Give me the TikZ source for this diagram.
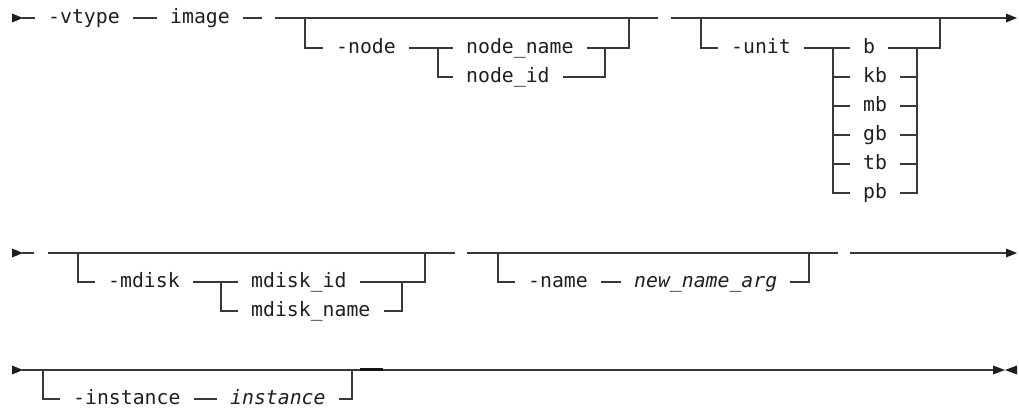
\documentclass[tikz,border=0pt]{standalone}
\usepackage{fontspec}
\newfontfamily\kwfam{DejaVu Sans Mono}
\newcommand\kwfont{\kwfam\fontsize{19.8}{22}\selectfont}
\begin{document}
\begin{tikzpicture}[x=1pt,y=-1pt,
  rr/.style={line width=1.1pt, draw=black!78},
  kw/.style={font=\kwfont, text=black!88, inner xsep=13pt, inner ysep=0pt,
    text height=10.8pt, text depth=0pt, anchor=west},
  var/.style={kw, font=\kwfont\itshape},
  tipfill/.style={fill=black!88, draw=none}]
\useasboundingbox (0,0) rectangle (1019,410);

% ---------- Row 1 ----------
\coordinate (r1s) at (12,18);
\coordinate (r1a) at (22,18);
\fill[tipfill] (r1s) ++(0,-4.5) -- ++(11,4.5) -- ++(-11,4.5) -- cycle;
\node[kw] (vtype) at (35,18) {-vtype};
\node[kw] (image) at (157,18) {image};
\coordinate (d1e) at (262,18);
\draw[rr] (r1a) -- (vtype.west);
\draw[rr] (vtype.east) -- (image.west);
\draw[rr] (image.east) -- (d1e);

% group -node
\coordinate (g1s) at (275,18);
\coordinate (g1b) at (305,18);
\coordinate (g1c) at (629,18);
\coordinate (g1e) at (658,18);
\coordinate (j1) at (438,48);
\coordinate (j2) at (605,48);
\node[kw] (opnode) at (323,48) {-node};
\node[kw] (nname) at (453,48) {node\_name};
\node[kw] (nid) at (453,77) {node\_id};
\draw[rr] (g1s) -- (g1e);
\draw[rr] (g1b) |- (opnode.west);
\draw[rr] (opnode.east) -- (nname.west);
\draw[rr] (j1) |- (nid.west);
\draw[rr] (nname.east) -| (g1c);
\draw[rr] (nid.east) -| (j2);

% group -unit
\coordinate (g2s) at (671,18);
\coordinate (g2b) at (701,18);
\coordinate (g2c) at (940,18);
\coordinate (g2e) at (1006,18);
\coordinate (j3) at (833,48);
\coordinate (j4) at (917,48);
\node[kw] (unit) at (718,48) {-unit};
\node[kw] (ub) at (850,48) {b};
\node[kw] (ukb) at (850,77) {kb};
\node[kw] (umb) at (850,106) {mb};
\node[kw] (ugb) at (850,135) {gb};
\node[kw] (utb) at (850,164) {tb};
\node[kw] (upb) at (850,193) {pb};
\draw[rr] (g2s) -- (g2e);
\fill[tipfill] (g2e) ++(0,-4.5) -- ++(11,4.5) -- ++(-11,4.5) -- cycle;
\draw[rr] (g2b) |- (unit.west);
\draw[rr] (unit.east) -- (ub.west);
\draw[rr] (j3) |- (upb.west);
\foreach \u in {ukb,umb,ugb,utb} \draw[rr] (j3 |- \u.west) -- (\u.west);
\draw[rr] (ub.east) -| (g2c);
\draw[rr] (j4) |- (upb.east);
\foreach \u in {ukb,umb,ugb,utb} \draw[rr] (\u.east) -- (j4 |- \u.east);

% ---------- Row 2 ----------
\coordinate (r2s) at (12,253);
\coordinate (r2a) at (22,253);
\coordinate (r2b) at (34,253);
\fill[tipfill] (r2s) ++(0,-4.5) -- ++(11,4.5) -- ++(-11,4.5) -- cycle;
\draw[rr] (r2a) -- (r2b);

% group -mdisk
\coordinate (g3s) at (48,253);
\coordinate (g3b) at (78,253);
\coordinate (g3c) at (425,253);
\coordinate (g3e) at (455,253);
\coordinate (j5) at (221,282);
\coordinate (j6) at (402,282);
\node[kw] (mdisk) at (95,282) {-mdisk};
\node[kw] (mid) at (238,282) {mdisk\_id};
\node[kw] (mname) at (238,311) {mdisk\_name};
\draw[rr] (g3s) -- (g3e);
\draw[rr] (g3b) |- (mdisk.west);
\draw[rr] (mdisk.east) -- (mid.west);
\draw[rr] (j5) |- (mname.west);
\draw[rr] (mid.east) -| (g3c);
\draw[rr] (mname.east) -| (j6);

% group -name
\coordinate (g4s) at (467,253);
\coordinate (g4b) at (498,253);
\coordinate (g4c) at (809,253);
\coordinate (g4e) at (838,253);
\node[kw] (oname) at (515,282) {-name};
\node[var] (nna) at (621,282) {new\_name\_arg};
\draw[rr] (g4s) -- (g4e);
\draw[rr] (g4b) |- (oname.west);
\draw[rr] (oname.east) -- (nna.west);
\draw[rr] (nna.east) -| (g4c);

\coordinate (g5s) at (850,253);
\coordinate (g5e) at (1006,253);
\draw[rr] (g5s) -- (g5e);
\fill[tipfill] (g5e) ++(0,-4.5) -- ++(11,4.5) -- ++(-11,4.5) -- cycle;

% ---------- Row 3 ----------
\coordinate (r3s) at (12,370);
\coordinate (r3a) at (22,370);
\coordinate (r3b) at (43,370);
\coordinate (r3c) at (352,370);
\coordinate (r3e) at (993,370);
\coordinate (r3t) at (1017,370);
\coordinate (th1) at (360,369.5);
\coordinate (th2) at (383,369.5);
\fill[tipfill] (r3s) ++(0,-4.5) -- ++(11,4.5) -- ++(-11,4.5) -- cycle;
\node[kw] (inst) at (60,399) {-instance};
\node[var] (ivar) at (217,399) {instance};
\draw[rr] (r3a) -- (r3e);
\draw[rr] (r3b) |- (inst.west);
\draw[rr] (inst.east) -- (ivar.west);
\draw[rr] (ivar.east) -| (r3c);
\draw[rr, line width=2.3pt, draw=black!92] (th1) -- (th2);
\fill[tipfill] (r3e) ++(0,-4.5) -- ++(12,4.5) -- ++(-12,4.5) -- cycle;
\fill[tipfill] (r3t) ++(0,-4.5) -- ++(-12,4.5) -- ++(12,4.5) -- cycle;
\end{tikzpicture}
\end{document}
